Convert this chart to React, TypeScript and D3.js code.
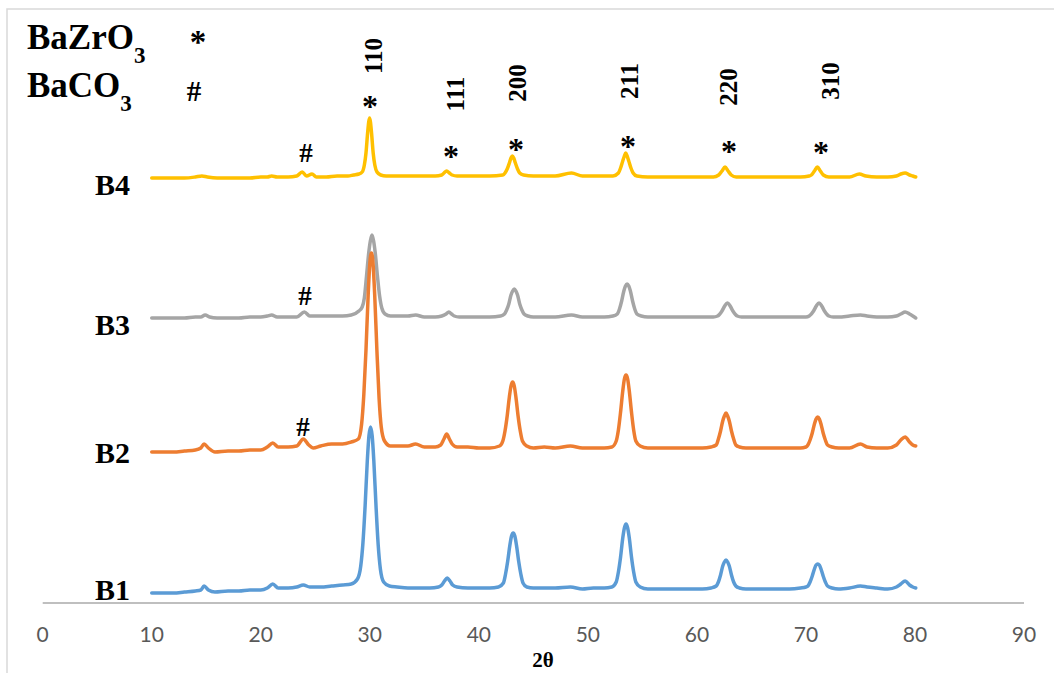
import React from "react";
import * as d3 from "d3";

// 2θ (degrees) vs. intensity (arbitrary units, series offset vertically)
const b1Points: [number, number][] = [
  [10, 10], [11, 10], [12, 10], [13, 11], [14, 12], [14.5, 13], [14.8, 17], [15.2, 13], [15.8, 11], [17, 12], [18, 12], [19, 13], [20, 13], [20.6, 15], [21.1, 19], [21.6, 15], [22.5, 15], [23.3, 16], [23.9, 18], [24.5, 16], [25.5, 16], [26.5, 17], [27.5, 18], [28.3, 19],
  [28.87, 24], [29.17, 37], [29.37, 60], [29.57, 97], [29.77, 142], [29.92, 167], [30.07, 176], [30.22, 167], [30.37, 142], [30.57, 97], [30.77, 58], [30.97, 34], [31.27, 21], [31.8, 17],
  [32.5, 16], [33.5, 15], [34.5, 15], [35.5, 15], [36.3, 16],
  [36.6, 18], [36.85, 22], [37.1, 25], [37.35, 22], [37.6, 18], [38.0, 16],
  [39, 15], [40, 15], [41, 15], [41.8, 16],
  [42.25, 20], [42.45, 29], [42.65, 42], [42.85, 58], [43.0, 67], [43.15, 70], [43.3, 67], [43.45, 58], [43.65, 42], [43.85, 29], [44.05, 20], [44.4, 16],
  [45, 15], [46, 15], [47, 15], [48.4, 16], [49.5, 14], [50.5, 15], [51.5, 15], [52.2, 16],
  [52.6, 21], [52.8, 31], [53.0, 46], [53.2, 65], [53.35, 75], [53.5, 79], [53.65, 75], [53.8, 65], [54.0, 46], [54.2, 31], [54.4, 21], [54.8, 16],
  [55.5, 14], [56.5, 14], [57.5, 14], [58.5, 14], [59.5, 14], [60.5, 14], [61.3, 15],
  [61.77, 17], [61.97, 21], [62.17, 28], [62.37, 37], [62.52, 41], [62.67, 43], [62.82, 41], [62.97, 37], [63.17, 28], [63.37, 21], [63.57, 17], [63.9, 15],
  [64.5, 14], [65.5, 14], [66.5, 14], [67.5, 14], [68.5, 14], [69.5, 15], [70.0, 16],
  [70.18, 17], [70.38, 21], [70.58, 27], [70.78, 34], [70.93, 38], [71.08, 39], [71.23, 38], [71.38, 34], [71.58, 27], [71.78, 21], [71.98, 17], [72.4, 15],
  [73, 14], [74, 15], [75, 17], [75.6, 16], [76.5, 15], [77.5, 14], [78.3, 16], [78.7, 19], [79.1, 22], [79.5, 18], [79.8, 16], [80.07, 15],
];

const b2Points: [number, number][] = [
  [10, 151], [11, 151], [12, 151], [13, 152], [14, 153], [14.5, 155], [14.8, 159], [15.2, 155], [15.8, 151], [17, 152], [18, 152], [19, 153], [20, 153], [20.6, 156], [21.1, 160], [21.6, 156], [22.5, 156], [23.3, 157], [23.9, 164], [24.4, 158], [24.8, 155], [25.5, 157], [26.5, 159], [27.5, 159], [28.3, 161],
  [28.95, 164], [29.25, 179], [29.45, 208], [29.65, 253], [29.85, 308], [30.0, 339], [30.15, 350], [30.3, 339], [30.45, 308], [30.65, 253], [30.85, 205], [31.05, 176], [31.35, 162], [31.9, 157],
  [32.5, 157], [33.5, 157], [34.2, 159], [35, 156], [36, 156], [36.5, 158],
  [36.8, 164], [37.05, 169], [37.3, 164], [37.55, 159], [38.0, 156],
  [39, 156], [40, 155], [41, 155], [41.9, 157],
  [42.2, 162], [42.4, 172], [42.6, 187], [42.8, 206], [42.95, 217], [43.1, 221], [43.25, 217], [43.4, 206], [43.6, 187], [43.8, 172], [44.0, 162], [44.4, 157],
  [45, 155], [46, 156], [47, 155], [48.4, 157], [49.5, 155], [50.5, 155], [51.5, 155], [52.2, 156],
  [52.6, 162], [52.8, 173], [53.0, 191], [53.2, 212], [53.35, 224], [53.5, 228], [53.65, 224], [53.8, 212], [54.0, 191], [54.2, 173], [54.4, 162], [54.8, 157],
  [55.5, 155], [56.5, 155], [57.5, 155], [58.5, 155], [59.5, 155], [60.5, 155], [61.3, 156],
  [61.77, 158], [61.97, 164], [62.17, 172], [62.37, 182], [62.52, 187], [62.67, 190], [62.82, 187], [62.97, 182], [63.17, 172], [63.37, 164], [63.57, 158], [63.9, 156],
  [64.5, 155], [65.5, 155], [66.5, 155], [67.5, 155], [68.5, 155], [69.5, 155], [70, 156],
  [70.18, 158], [70.38, 163], [70.58, 170], [70.78, 179], [70.93, 184], [71.08, 186], [71.23, 184], [71.38, 179], [71.58, 170], [71.78, 163], [71.98, 158], [72.4, 156],
  [73, 155], [74, 155], [75, 159], [75.6, 156], [76.5, 155], [77.5, 155], [78.3, 158], [78.7, 163], [79.1, 166], [79.5, 161], [79.8, 158], [80.07, 157],
];

const b3Points: [number, number][] = [
  [10, 285], [11, 285], [12, 285], [13, 285], [14, 286], [14.5, 286], [14.9, 288], [15.3, 286], [16, 285], [17, 285], [18, 285], [19, 286], [20, 286], [20.6, 287], [21.0, 288], [21.5, 286], [22.5, 286], [23.3, 286], [24.0, 291], [24.5, 287], [25.5, 287], [26.5, 287], [27.5, 287], [28.3, 288],
  [29.0, 292], [29.3, 296], [29.5, 305], [29.7, 327], [29.9, 350], [30.05, 362], [30.2, 368], [30.35, 362], [30.5, 350], [30.7, 327], [30.9, 307], [31.1, 295], [31.4, 289], [31.9, 287],
  [32.5, 287], [33.5, 287], [34.2, 288], [35, 286], [36, 286], [36.6, 287],
  [37.0, 289], [37.25, 291], [37.5, 289], [37.75, 287], [38.2, 286],
  [39, 286], [40, 286], [41, 286], [42, 287],
  [42.35, 289], [42.55, 293], [42.75, 299], [42.95, 308], [43.1, 312], [43.25, 314], [43.4, 312], [43.55, 308], [43.75, 299], [43.95, 293], [44.15, 289], [44.5, 287],
  [45, 286], [46, 286], [47, 286], [48.5, 288], [49.5, 286], [50.5, 286], [51.5, 286], [52.3, 287],
  [52.7, 289], [52.9, 294], [53.1, 302], [53.3, 312], [53.45, 317], [53.6, 319], [53.75, 317], [53.9, 312], [54.1, 302], [54.3, 294], [54.5, 289], [54.9, 287],
  [55.5, 286], [56.5, 286], [57.5, 286], [58.5, 286], [59.5, 286], [60.5, 286], [61.5, 286],
  [61.9, 287], [62.3, 292], [62.55, 297], [62.8, 300], [63.05, 297], [63.3, 292], [63.7, 287], [64.1, 286],
  [65, 286], [66, 286], [67, 286], [68, 286], [69, 286], [70, 286],
  [70.3, 287], [70.7, 292], [70.95, 297], [71.2, 300], [71.45, 297], [71.7, 292], [72.1, 287], [72.5, 286],
  [73, 286], [74, 287], [75, 288], [75.6, 287], [76.5, 286], [77.5, 286], [78.3, 287], [78.7, 289], [79.1, 291], [79.5, 289], [79.8, 287], [80.07, 285],
];

const b4Points: [number, number][] = [
  [10, 425], [11, 425], [12, 425], [13, 425], [14, 426], [14.6, 427], [15.1, 426], [16, 425], [17, 425], [18, 425], [19, 425], [20, 426], [20.6, 426], [21.0, 427], [21.5, 426], [22.5, 426], [23.3, 427], [23.8, 431], [24.2, 427], [24.7, 429], [25.1, 426], [26, 426], [27, 427], [28, 427], [28.5, 428],
  [29.0, 429], [29.3, 431], [29.5, 438], [29.65, 450], [29.8, 470], [29.9, 481], [29.98, 485], [30.06, 481], [30.16, 470], [30.31, 450], [30.46, 438], [30.66, 431], [31.0, 428], [31.5, 427],
  [32, 427], [33, 427], [34, 427], [35, 427], [36, 427], [36.6, 428],
  [36.8, 430], [37.05, 432], [37.3, 430], [37.55, 428], [38.0, 427],
  [39, 427], [40, 427], [41, 427], [42.2, 428],
  [42.4, 430], [42.6, 434], [42.8, 440], [42.95, 445], [43.07, 447], [43.2, 445], [43.35, 440], [43.55, 434], [43.75, 430], [44.1, 428],
  [45, 427], [46, 427], [47, 427], [48.5, 430], [49.5, 427], [50.5, 427], [51.5, 427], [52.3, 427],
  [52.8, 430], [53.0, 435], [53.2, 442], [53.35, 447], [53.47, 450], [53.6, 447], [53.75, 442], [53.95, 435], [54.15, 430], [54.5, 427],
  [55.5, 426], [56.5, 426], [57.5, 426], [58.5, 426], [59.5, 426], [60.5, 426], [61.5, 426], [62.0, 428],
  [62.3, 432], [62.58, 436], [62.86, 432], [63.15, 428], [63.6, 426],
  [64.5, 426], [65.5, 426], [66.5, 426], [67.5, 426], [68.5, 426], [69.5, 426], [70.3, 427],
  [70.5, 428], [70.78, 432], [71.05, 436], [71.32, 432], [71.6, 428], [72.1, 426],
  [73, 426], [74, 426], [74.9, 429], [75.5, 427], [76.5, 426], [77.5, 426], [78.3, 427], [78.7, 429], [79.1, 430], [79.5, 428], [79.8, 427], [80.07, 426],
];

const seriesNames = ["B4", "B3", "B2", "B1"];
const seriesColors = ["#FFC000", "#A5A5A5", "#ED7D31", "#5B9BD5"];
const seriesData = [b4Points, b3Points, b2Points, b1Points];

const xTicks = [0, 10, 20, 30, 40, 50, 60, 70, 80, 90];
const xTitle = "2θ";

// Miller index labels: [2θ, intensity position, text]
const hklLabels: [number, number, string][] = [
  [30.3, 547, "110"],
  [37.8, 509, "111"],
  [43.5, 520, "200"],
  [53.77, 522, "211"],
  [62.86, 516, "220"],
  [72.2, 522, "310"],
];

// Phase markers: [2θ, intensity position, symbol]
const phaseMarks: [number, number, string][] = [
  [30.02, 501, "*"],
  [24.15, 450, "#"],
  [37.45, 451, "*"],
  [43.41, 458, "*"],
  [53.68, 461, "*"],
  [62.95, 456, "*"],
  [71.38, 455, "*"],
  [24.06, 307, "#"],
  [23.87, 176, "#"],
];

// Sample labels: [name, intensity position of label centre]
const sampleLabels: [string, number][] = [
  ["B4", 418],
  ["B3", 278],
  ["B2", 150],
  ["B1", 13],
];

const W = 1054;
const H = 673;
const serif = "'Liberation Serif', 'Times New Roman', serif";

export default function App() {
  const x = d3.scaleLinear().domain([0, 90]).range([42.7, 1024]);
  const y = d3.scaleLinear().domain([0, 583]).range([603, 20]);
  const line = d3
    .line<[number, number]>()
    .x((d) => x(d[0]))
    .y((d) => y(d[1]))
    .curve(d3.curveMonotoneX);

  return (
    <svg
      width={W}
      height={H}
      style={{ position: "absolute", left: 0, top: 0, background: "#fff" }}
    >
      <rect x={0} y={0} width={W} height={H} fill="#fff" />
      <rect x={7} y={9} width={W + 20} height={H + 20} fill="none" stroke="#d9d9d9" strokeWidth={1.5} />

      {/* x axis */}
      <line x1={x(0)} x2={x(90)} y1={y(0)} y2={y(0)} stroke="#bfbfbf" strokeWidth={1.8} />
      {xTicks.map((t) => (
        <text
          key={t}
          x={x(t)}
          y={y(0) + 39}
          textAnchor="middle"
          fontFamily="Lato, 'Open Sans', sans-serif"
          fontSize={21}
          fill="#595959"
        >
          {t}
        </text>
      ))}
      <text x={543} y={667} textAnchor="middle" fontFamily={serif} fontWeight="bold" fontSize={21} fill="#000">
        {xTitle}
      </text>

      {/* series */}
      {seriesData.map((pts, i) => (
        <path
          key={seriesNames[i]}
          d={line(pts) || ""}
          fill="none"
          stroke={seriesColors[i]}
          strokeWidth={3.5}
          strokeLinejoin="round"
          strokeLinecap="round"
        />
      ))}

      {/* sample labels */}
      {sampleLabels.map(([name, v]) => (
        <text key={name} x={95} y={y(v) + 10} fontFamily={serif} fontWeight="bold" fontSize={30} fill="#000">
          {name}
        </text>
      ))}

      {/* hkl labels */}
      {hklLabels.map(([tx, v, s]) => (
        <text
          key={s}
          transform={`translate(${x(tx) + 9},${y(v)}) rotate(-90)`}
          textAnchor="middle"
          fontFamily={serif}
          fontWeight="bold"
          fontSize={25}
          fill="#000"
        >
          {s}
        </text>
      ))}

      {/* phase markers */}
      {phaseMarks.map(([tx, v, s], i) => (
        <text
          key={i}
          x={x(tx)}
          y={s === "*" ? y(v) + 15 : y(v) + 9}
          textAnchor="middle"
          fontFamily={serif}
          fontWeight="bold"
          fontSize={s === "*" ? 32 : 27}
          fill="#000"
        >
          {s}
        </text>
      ))}

      {/* legend */}
      <text x={27} y={49} fontFamily={serif} fontWeight="bold" fontSize={35} fill="#000">
        BaZrO
        <tspan fontSize={23} dy={14}>3</tspan>
      </text>
      <text x={198} y={53} textAnchor="middle" fontFamily={serif} fontWeight="bold" fontSize={33} fill="#000">
        *
      </text>
      <text x={27} y={97} fontFamily={serif} fontWeight="bold" fontSize={35} fill="#000">
        BaCO
        <tspan fontSize={23} dy={14}>3</tspan>
      </text>
      <text x={194} y={101} textAnchor="middle" fontFamily={serif} fontWeight="bold" fontSize={29} fill="#000">
        #
      </text>
    </svg>
  );
}
